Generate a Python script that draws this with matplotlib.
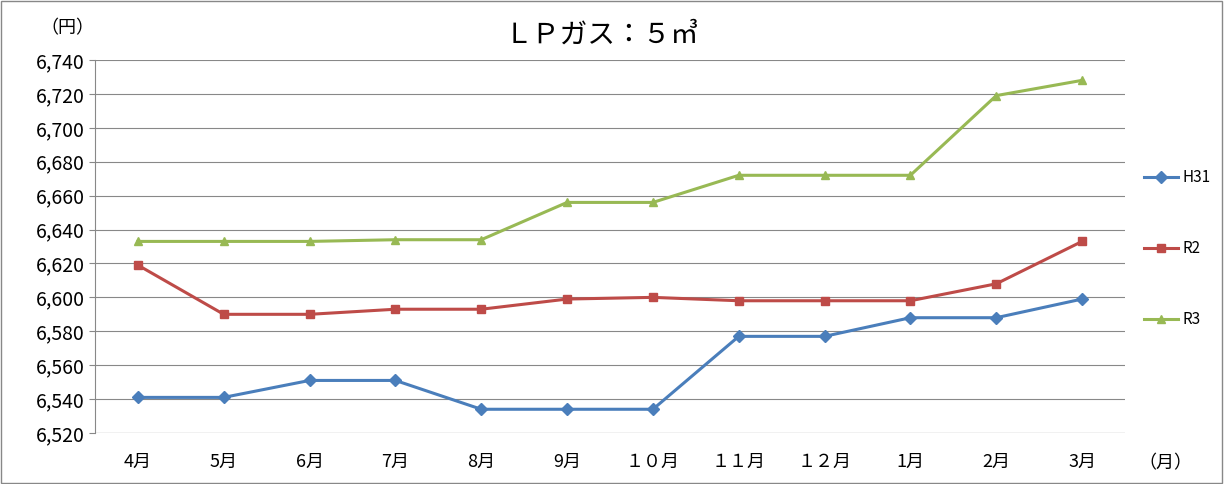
import matplotlib
matplotlib.use("Agg")
import matplotlib.pyplot as plt
from matplotlib.patches import Rectangle

plt.rcParams['font.family'] = 'Noto Sans CJK JP'

months = ["4月", "5月", "6月", "7月", "8月", "9月", "１０月", "１１月", "１２月", "1月", "2月", "3月"]
h31 = [6541, 6541, 6551, 6551, 6534, 6534, 6534, 6577, 6577, 6588, 6588, 6599]
r2 = [6619, 6590, 6590, 6593, 6593, 6599, 6600, 6598, 6598, 6598, 6608, 6633]
r3 = [6633, 6633, 6633, 6634, 6634, 6656, 6656, 6672, 6672, 6672, 6719, 6728]
yticks = list(range(6520, 6741, 20))

fig = plt.figure(figsize=(12.24, 4.84), dpi=100)
ax = fig.add_axes([95/1224, 1-433/484, 1030/1224, 373/484])
x = range(len(months))
ax.plot(x, h31, color='#4a7ebb', lw=2.2, marker='D', ms=6, label='H31')
ax.plot(x, r2, color='#be4b48', lw=2.2, marker='s', ms=6, label='R2')
ax.plot(x, r3, color='#98b954', lw=2.2, marker='^', ms=6, label='R3')
ax.set_xlim(-0.5, len(months) - 0.5)
ax.set_ylim(6520, 6740)
ax.set_yticks(yticks)
ax.set_yticklabels([f"{v:,}" for v in yticks], fontsize=14)
ax.set_xticks(list(x))
ax.set_xticklabels(months, fontsize=13)
ax.yaxis.grid(True, color='#888888', lw=0.8)
for s in ['top', 'right', 'bottom']:
    ax.spines[s].set_visible(False)
ax.spines['left'].set_color('#888888')
ax.axhline(6520, color='#888888', lw=0.8)
ax.tick_params(axis='x', length=0, pad=14)
ax.tick_params(axis='y', length=4, color='#888888')
ax.set_axisbelow(True)

fig.text(505/1224, 1-35/484, "ＬＰガス：５㎥", fontsize=20, va='center', ha='left')
fig.text(40/1224, 1-28/484, "（円）", fontsize=13, va='center', ha='left')
fig.text(1138/1224, 1-463/484, "（月）", fontsize=13, va='center', ha='left')
leg = ax.legend(loc='upper left', bbox_to_anchor=(1.005, 0.745), frameon=False,
                fontsize=11, labelspacing=3.55, handlelength=2.2, handletextpad=0.3)
fig.add_artist(Rectangle((0.001, 0.002), 0.997, 0.996, transform=fig.transFigure,
                         fill=False, edgecolor='#888888', lw=1))
fig.savefig("out.png", dpi=100)
